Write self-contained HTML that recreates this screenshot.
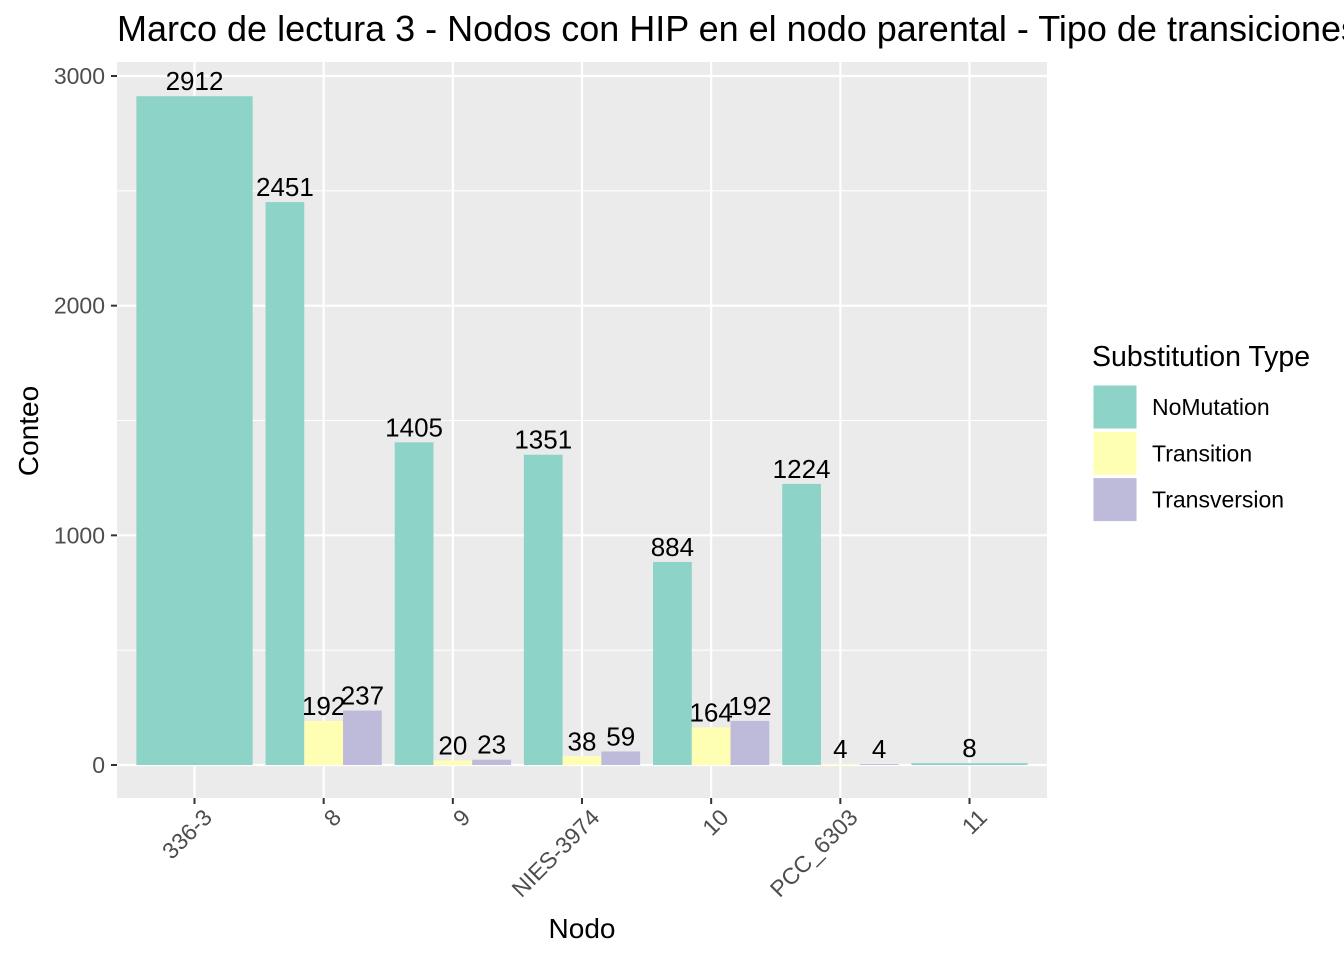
<!DOCTYPE html>
<html><head><meta charset="utf-8"><style>
body{margin:0;background:#fff;font-family:"Liberation Sans",Arial,sans-serif}
svg{display:block}
</style></head><body>
<svg id="chart" width="1344" height="960" xmlns="http://www.w3.org/2000/svg"></svg>
<script>
const categories = ["336-3","8","9","NIES-3974","10","PCC_6303","11"];
const seriesNames = ["NoMutation","Transition","Transversion"];
const noMutation = [2912,2451,1405,1351,884,1224,8];
const transition = [null,192,20,38,164,4,null];
const transversion = [null,237,23,59,192,4,null];
const yTicks = [0,1000,2000,3000];
const yMinor = [500,1500,2500];
const colors = ["#8DD3C7","#FFFFB3","#BEBADA"];

const svg = document.getElementById('chart');
const NS = "http://www.w3.org/2000/svg";
const pL=117, pR=1047, pT=62, pB=798;
const step=(pR-pL)/(categories.length+0.2);
const xC = i => pL + step*(0.6+i);
const y = v => 765 - v*(765-76)/3000;
function mk(tag, attrs, text){const e=document.createElementNS(NS,tag);for(const k in attrs)e.setAttribute(k,attrs[k]);if(text!=null)e.textContent=text;svg.appendChild(e);return e;}

let e=mk('rect',{x:pL,y:pT,width:pR-pL,height:pB-pT,fill:'#EBEBEB'});


yMinor.forEach(v=>{const g=mk('line',{x1:pL,x2:pR,y1:y(v),y2:y(v),stroke:'#fff','stroke-width':1.1});

});
yTicks.forEach(v=>{const g=mk('line',{x1:pL,x2:pR,y1:y(v),y2:y(v),stroke:'#fff','stroke-width':2.2});

});
categories.forEach((c,i)=>{const g=mk('line',{x1:xC(i),x2:xC(i),y1:pT,y2:pB,stroke:'#fff','stroke-width':2.2});

});

const series=[noMutation,transition,transversion];
categories.forEach((c,i)=>{
  const present=series.map((s,k)=>k).filter(k=>series[k][i]!=null);
  const n=present.length, total=0.9*step, w=total/n;
  present.forEach((k,j)=>{
    const v=series[k][i];
    const x0=xC(i)-total/2+j*w;
    const b=mk('rect',{x:x0,y:y(v),width:w,height:y(0)-y(v),fill:colors[k]});
    
    
    const t=mk('text',{x:x0+w/2,y:y(v)-6,'text-anchor':'middle','font-size':26,fill:'#000'},String(v));
    
    
  });
});

yTicks.forEach(v=>{
  const t=mk('line',{x1:pL-6,x2:pL,y1:y(v),y2:y(v),stroke:'#333','stroke-width':2});
  
  
  const l=mk('text',{x:pL-12,y:y(v)+8,'text-anchor':'end','font-size':23,fill:'#4D4D4D'},String(v));
  
  
});
categories.forEach((c,i)=>{
  const t=mk('line',{x1:xC(i),x2:xC(i),y1:pB,y2:pB+6,stroke:'#333','stroke-width':2});
  
  
  const l=mk('text',{x:xC(i)+7,y:pB+9,'text-anchor':'end','font-size':23,fill:'#4D4D4D',transform:`rotate(-45 ${xC(i)+7} ${pB+9})`,'dominant-baseline':'hanging'},c);
  
  
});

let t=mk('text',{x:117,y:41,'font-size':36,fill:'#000'},'Marco de lectura 3 - Nodos con HIP en el nodo parental - Tipo de transiciones');


t=mk('text',{x:(pL+pR)/2,y:938,'text-anchor':'middle','font-size':28,fill:'#000'},'Nodo');


t=mk('text',{x:38,y:431,'text-anchor':'middle','font-size':28,fill:'#000',transform:'rotate(-90 38 431)'},'Conteo');



t=mk('text',{x:1092,y:366,'font-size':28.5,fill:'#000'},'Substitution Type');


seriesNames.forEach((s,k)=>{
  const yy=385+k*46.3;
  const r=mk('rect',{x:1093,y:yy,width:44,height:44,fill:colors[k],stroke:'#fff','stroke-width':1});
  
  
  const l=mk('text',{x:1152,y:yy+30,'font-size':23,fill:'#000'},s);
  
  
});
</script>
</body></html>
